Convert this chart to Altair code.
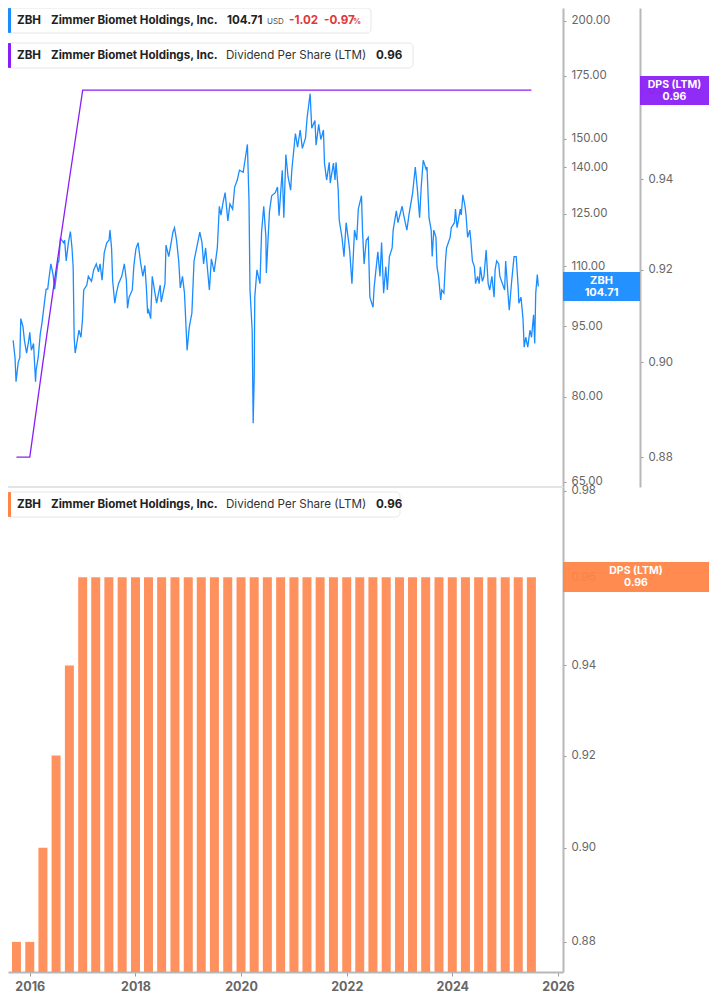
import altair as alt
import pandas as pd

# ---------------- data ----------------
# ZBH share price (USD); dates as decimal years
price_years = [
    2015.685, 2015.72, 2015.74, 2015.78, 2015.81, 2015.83, 2015.87, 2015.90, 2015.94, 2015.98,
    2016.00, 2016.03, 2016.07, 2016.11, 2016.12, 2016.16, 2016.20, 2016.23, 2016.29, 2016.31,
    2016.34, 2016.36, 2016.40, 2016.44, 2016.47, 2016.53, 2016.55, 2016.58, 2016.64, 2016.66,
    2016.69, 2016.73, 2016.77, 2016.80, 2016.82, 2016.84, 2016.86, 2016.91, 2016.93, 2016.97,
    2017.00, 2017.02, 2017.08, 2017.11, 2017.17, 2017.21, 2017.26, 2017.30, 2017.33, 2017.37,
    2017.41, 2017.46, 2017.50, 2017.52, 2017.55, 2017.57, 2017.61, 2017.64, 2017.68, 2017.74,
    2017.79, 2017.83, 2017.85, 2017.88, 2017.94, 2017.97, 2018.01, 2018.05, 2018.10, 2018.14,
    2018.18, 2018.21, 2018.23, 2018.25, 2018.29, 2018.32, 2018.40, 2018.47, 2018.49, 2018.56,
    2018.58, 2018.63, 2018.67, 2018.71, 2018.74, 2018.78, 2018.82, 2018.85, 2018.89, 2018.93,
    2018.98, 2019.02, 2019.07, 2019.11, 2019.15, 2019.22, 2019.26, 2019.29, 2019.33, 2019.40,
    2019.44, 2019.49, 2019.55, 2019.59, 2019.62, 2019.66, 2019.70, 2019.75, 2019.79, 2019.84,
    2019.88, 2019.93, 2019.97, 2020.04, 2020.12, 2020.15, 2020.17, 2020.21, 2020.23, 2020.25,
    2020.26, 2020.30, 2020.36, 2020.39, 2020.43, 2020.47, 2020.48, 2020.54, 2020.58, 2020.65,
    2020.69, 2020.72, 2020.78, 2020.81, 2020.85, 2020.89, 2020.94, 2020.96, 2021.03, 2021.07,
    2021.12, 2021.16, 2021.22, 2021.25, 2021.31, 2021.34, 2021.40, 2021.42, 2021.47, 2021.51,
    2021.56, 2021.58, 2021.62, 2021.67, 2021.69, 2021.75, 2021.78, 2021.80, 2021.84, 2021.86,
    2021.91, 2021.95, 2021.99, 2022.04, 2022.06, 2022.10, 2022.15, 2022.19, 2022.22, 2022.28,
    2022.30, 2022.33, 2022.37, 2022.41, 2022.44, 2022.50, 2022.52, 2022.59, 2022.63, 2022.66,
    2022.70, 2022.74, 2022.77, 2022.81, 2022.86, 2022.88, 2022.94, 2022.97, 2023.05, 2023.08,
    2023.14, 2023.18, 2023.25, 2023.30, 2023.34, 2023.38, 2023.41, 2023.45, 2023.51, 2023.52,
    2023.56, 2023.60, 2023.62, 2023.65, 2023.69, 2023.71, 2023.74, 2023.78, 2023.80, 2023.84,
    2023.87, 2023.89, 2023.96, 2023.98, 2024.04, 2024.06, 2024.09, 2024.15, 2024.17, 2024.20,
    2024.24, 2024.26, 2024.29, 2024.33, 2024.35, 2024.38, 2024.42, 2024.44, 2024.48, 2024.51,
    2024.53, 2024.57, 2024.60, 2024.64, 2024.68, 2024.71, 2024.75, 2024.79, 2024.81, 2024.84,
    2024.88, 2024.90, 2024.95, 2024.99, 2025.01, 2025.06, 2025.08, 2025.12, 2025.15, 2025.17,
    2025.21, 2025.25, 2025.26, 2025.30, 2025.34, 2025.36, 2025.39, 2025.43, 2025.47, 2025.50,
    2025.54, 2025.56, 2025.58, 2025.61, 2025.63,
]
price_values = [
    91.8, 88.0, 83.0, 87.0, 88.0, 96.8, 94.9, 91.8, 89.0, 91.8,
    93.6, 89.6, 91.1, 83.0, 85.4, 88.0, 93.4, 95.7, 102.0, 104.0,
    104.0, 106.3, 110.6, 107.8, 104.0, 110.8, 111.4, 117.7, 116.5, 117.2,
    111.4, 116.5, 119.7, 115.0, 109.8, 92.5, 89.0, 92.5, 94.1, 92.5,
    96.8, 103.8, 105.0, 107.3, 106.0, 109.0, 110.6, 108.5, 110.6, 106.3,
    113.7, 116.5, 117.2, 120.1, 114.7, 106.3, 100.5, 103.0, 105.4, 107.3,
    110.6, 106.3, 99.3, 102.0, 103.8, 110.2, 114.7, 116.5, 110.8, 107.3,
    110.2, 104.0, 98.0, 98.8, 96.8, 107.3, 100.5, 105.0, 100.8, 105.4,
    115.8, 112.6, 115.8, 119.5, 120.8, 117.2, 111.4, 104.3, 107.3, 103.0,
    89.6, 94.8, 98.1, 111.4, 114.4, 119.5, 116.5, 110.6, 115.0, 103.8,
    112.0, 108.5, 115.0, 127.3, 124.6, 128.6, 131.6, 122.8, 128.0, 126.4,
    133.4, 135.7, 139.0, 138.3, 148.0, 129.2, 103.8, 94.1, 75.0, 83.9,
    102.0, 109.0, 105.4, 119.5, 127.3, 118.0, 108.2, 125.9, 130.6, 131.6,
    133.4, 124.4, 139.0, 123.8, 144.4, 136.8, 132.4, 139.0, 152.0, 147.0,
    153.3, 146.6, 150.4, 158.0, 167.5, 154.0, 156.9, 147.7, 155.4, 149.8,
    153.3, 141.4, 135.7, 141.7, 134.7, 141.4, 135.7, 141.7, 132.4, 123.1,
    118.0, 112.6, 122.3, 116.5, 113.9, 105.4, 120.1, 117.2, 126.4, 130.6,
    120.1, 110.6, 117.2, 118.0, 102.0, 99.5, 104.3, 113.9, 107.3, 116.5,
    103.0, 109.8, 103.8, 112.6, 115.0, 120.1, 125.9, 122.3, 127.3, 124.6,
    120.1, 124.6, 131.6, 140.1, 132.4, 123.8, 133.4, 142.4, 139.0, 140.1,
    123.8, 120.1, 112.6, 120.1, 118.0, 109.8, 107.3, 101.3, 103.8, 103.0,
    111.4, 115.0, 118.0, 120.8, 122.3, 126.4, 120.8, 126.4, 124.6, 130.9,
    127.3, 124.6, 118.0, 120.1, 117.2, 111.4, 109.8, 105.4, 107.3, 105.4,
    109.8, 106.0, 107.3, 114.4, 105.4, 103.8, 107.3, 102.0, 109.0, 111.4,
    110.6, 107.3, 105.4, 103.8, 111.4, 102.0, 98.8, 105.4, 109.8, 112.6,
    112.6, 103.8, 100.5, 102.0, 96.8, 90.3, 92.5, 90.3, 94.1, 92.5,
    97.7, 91.1, 103.0, 107.8, 104.71,
]

# Dividend per share (LTM), quarterly
dps_dates = [
    "2015-10-01",
    "2016-01-01", "2016-04-01", "2016-07-01", "2016-10-01",
    "2017-01-01", "2017-04-01", "2017-07-01", "2017-10-01",
    "2018-01-01", "2018-04-01", "2018-07-01", "2018-10-01",
    "2019-01-01", "2019-04-01", "2019-07-01", "2019-10-01",
    "2020-01-01", "2020-04-01", "2020-07-01", "2020-10-01",
    "2021-01-01", "2021-04-01", "2021-07-01", "2021-10-01",
    "2022-01-01", "2022-04-01", "2022-07-01", "2022-10-01",
    "2023-01-01", "2023-04-01", "2023-07-01", "2023-10-01",
    "2024-01-01", "2024-04-01", "2024-07-01", "2024-10-01",
    "2025-01-01", "2025-04-01", "2025-07-01",
]
dps_values = [
    0.88,
    0.88, 0.90, 0.92, 0.94,
    0.96, 0.96, 0.96, 0.96,
    0.96, 0.96, 0.96, 0.96,
    0.96, 0.96, 0.96, 0.96,
    0.96, 0.96, 0.96, 0.96,
    0.96, 0.96, 0.96, 0.96,
    0.96, 0.96, 0.96, 0.96,
    0.96, 0.96, 0.96, 0.96,
    0.96, 0.96, 0.96, 0.96,
    0.96, 0.96, 0.96,
]

price_ticks = [65, 80, 95, 110, 125, 140, 150, 175, 200]
dps_ticks_top = [0.88, 0.90, 0.92, 0.94, 0.96]
dps_ticks_bottom = [0.88, 0.90, 0.92, 0.94, 0.96, 0.98]
year_ticks = [2016, 2018, 2020, 2022, 2024, 2026]

# ---------------- frames ----------------
base = pd.Timestamp("2016-01-01")
price_df = pd.DataFrame({
    "date": [base + pd.Timedelta(days=round((y - 2016) * 365.25)) for y in price_years],
    "price": price_values,
})
dps_df = pd.DataFrame({"date": pd.to_datetime(dps_dates), "dps": dps_values})
one = pd.DataFrame({"k": [0]})

# ---------------- style ----------------
FONT = "Inter"
BLUE = "#1A8CFF"
PURPLE = "#8A1EF5"
ORANGE_BAR = "#FF915F"
ORANGE_BOX = "#FF8446"
RED = "#E0383A"
W, H = 555, 964
SPLIT = 479
RIGHT = 146      # room right of the plot (axes + tags)
TAG_END = W + RIGHT

axis_style = dict(
    title=None, grid=False, domainColor="#b8b8b8", domainWidth=2,
    tickColor="#999", tickSize=3, labelColor="#666", labelFontSize=11.5,
    labelFont=FONT, labelPadding=5,
)

x_enc = alt.X(
    "date:T",
    scale=alt.Scale(
        domain=[alt.DateTime(year=2015, month=9, date=7),
                alt.DateTime(year=2026, month=1, date=1)],
        nice=False,
    ),
    axis=alt.Axis(
        values=[alt.DateTime(year=y, month=1, date=1) for y in year_ticks],
        format="%Y", title=None, grid=False, labelFontWeight="bold",
        labelFontSize=12.5, labelColor="#666", labelFont=FONT,
        tickColor="#999", tickSize=4, domainColor="#b8b8b8", domainWidth=2,
        labelPadding=4,
    ),
)

price_line = alt.Chart(price_df).mark_line(color=BLUE, strokeWidth=1.3).encode(
    x=x_enc,
    y=alt.Y(
        "price:Q",
        scale=alt.Scale(type="log", domain=[64.21, 206.4], range=[SPLIT, 0], nice=False),
        axis=alt.Axis(orient="right", values=price_ticks, format=".2f", **axis_style),
    ),
)

dps_line = alt.Chart(dps_df).mark_line(color=PURPLE, strokeWidth=1.3).encode(
    x=x_enc,
    y=alt.Y(
        "dps:Q",
        scale=alt.Scale(type="log", domain=[0.8738, 0.9789], range=[SPLIT, 0], nice=False),
        axis=alt.Axis(orient="right", offset=77, values=dps_ticks_top, format=".2f", **axis_style),
    ),
)

dps_bars = alt.Chart(dps_df).mark_bar(color=ORANGE_BAR, size=9).encode(
    x=x_enc,
    y=alt.Y(
        "dps:Q",
        scale=alt.Scale(type="log", domain=[0.8737, 0.9809], range=[H, SPLIT], nice=False),
        axis=alt.Axis(orient="right", values=dps_ticks_bottom, format=".2f", **axis_style),
    ),
    y2=alt.datum(0.8737),
)

separator = alt.Chart(one).mark_rule(color="#e4e4e4", strokeWidth=2).encode(
    x=alt.value(0), x2=alt.value(W), y=alt.value(SPLIT)
)


def box(x, x2, y, y2, fill, stroke=None, radius=0, opacity=1.0):
    kw = dict(fill=fill, cornerRadius=radius, opacity=opacity)
    if stroke:
        kw.update(stroke=stroke, strokeWidth=1)
    return alt.Chart(one).mark_rect(**kw).encode(
        x=alt.value(x), x2=alt.value(x2), y=alt.value(y), y2=alt.value(y2)
    )


def txt(x, y, s, size=11.6, weight="bold", color="#222", align="left"):
    return alt.Chart(one).mark_text(
        text=s, align=align, baseline="middle", fontSize=size,
        fontWeight=weight, color=color, font=FONT,
    ).encode(x=alt.value(x), y=alt.value(y))


layers = [separator, dps_bars, price_line, dps_line]

# legend row 1 (price)
layers += [
    box(0, 363, 0, 25, "white", "#e6e6e6", 4),
    box(0, 3, 0, 25, BLUE, None, 1),
    txt(9, 12.5, "ZBH"),
    txt(43, 12.5, "Zimmer Biomet Holdings, Inc."),
    txt(219, 12.5, "104.71"),
    txt(259, 14, "USD", size=8, weight="normal", color="#555"),
    txt(281, 12.5, "-1.02", color=RED),
    txt(316, 12.5, "-0.97", color=RED),
    txt(345, 14, "%", size=8, color=RED),
]
# legend row 2 (DPS line)
layers += [
    box(0, 405, 35, 60, "white", "#e6e6e6", 4),
    box(0, 3, 35, 60, PURPLE, None, 1),
    txt(9, 47.5, "ZBH"),
    txt(43, 47.5, "Zimmer Biomet Holdings, Inc."),
    txt(218, 47.5, "Dividend Per Share (LTM)", weight="normal", color="#333"),
    txt(368, 47.5, "0.96"),
]
# legend row 3 (DPS bars)
layers += [
    box(0, 392, 484, 509, "white", "#e6e6e6", 4),
    box(0, 3, 484, 509, ORANGE_BOX, None, 1),
    txt(9, 496.5, "ZBH"),
    txt(43, 496.5, "Zimmer Biomet Holdings, Inc."),
    txt(218, 496.5, "Dividend Per Share (LTM)", weight="normal", color="#333"),
    txt(368, 496.5, "0.96"),
]
# value tags on the right axes
layers += [
    box(W, W + 77, 264, 293, BLUE, None, 0, 0.96),
    txt(W + 38.5, 273, "ZBH", size=11, color="white", align="center"),
    txt(W + 38.5, 285, "104.71", size=11, color="white", align="center"),
    box(W + 77, TAG_END, 68, 97, PURPLE, None, 0, 0.94),
    txt((W + 77 + TAG_END) / 2, 76.5, "DPS (LTM)", size=10.5, color="white", align="center"),
    txt((W + 77 + TAG_END) / 2, 88.5, "0.96", size=10.5, color="white", align="center"),
    box(W, TAG_END, 554, 584, ORANGE_BOX, None, 0, 0.94),
    txt((W + TAG_END) / 2, 563, "DPS (LTM)", size=10.5, color="white", align="center"),
    txt((W + TAG_END) / 2, 575, "0.96", size=10.5, color="white", align="center"),
]

chart = (
    alt.layer(*layers)
    .resolve_scale(y="independent")
    .properties(
        width=W, height=H,
        autosize=alt.AutoSizeParams(type="none"),
        padding={"left": 0, "top": 0, "right": RIGHT, "bottom": 25},
        background="white",
    )
    .configure_view(stroke=None)
    .configure_text(font=FONT)
)

chart.save("out.html", embed_options={"renderer": "svg", "actions": False})
